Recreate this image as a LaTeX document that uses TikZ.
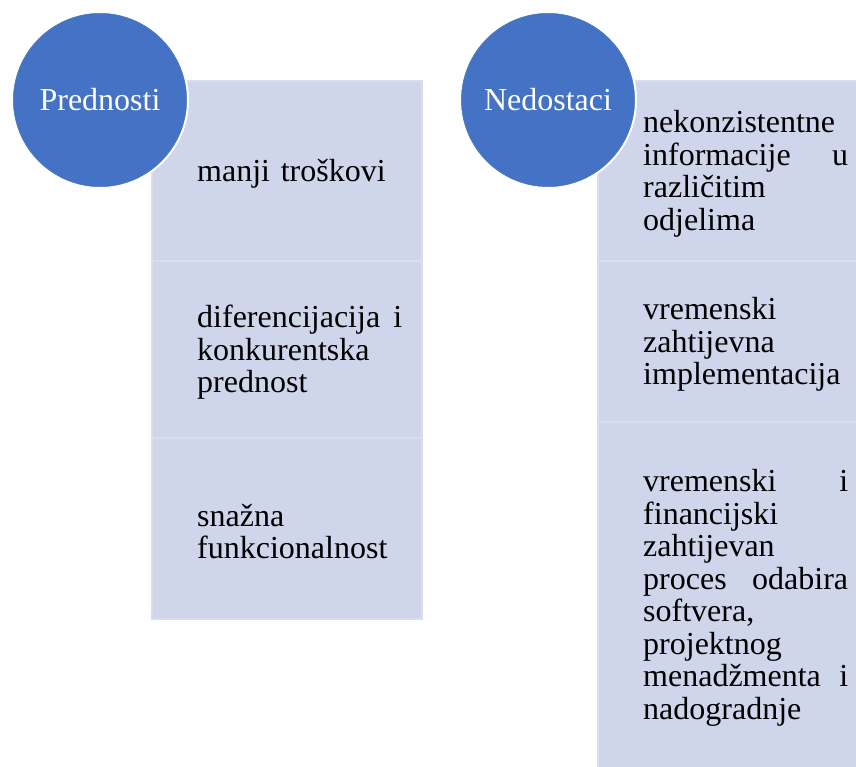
\documentclass[tikz,border=0pt]{standalone}
\usepackage{fontspec}
\setmainfont{Liberation Serif}
\usetikzlibrary{positioning}
\definecolor{plava}{HTML}{4472C4}
\definecolor{svijetla}{HTML}{CFD5EA}
\definecolor{rub}{HTML}{D9DEEF}

\begin{document}
\begin{tikzpicture}[x=1pt, y=-1pt,
  krug/.style={circle, fill=plava, draw=white, line width=2pt, minimum size=176pt, inner sep=0pt, text=white, font=\fontsize{32}{32}\selectfont},
  polje/.style={rectangle, fill=svijetla, draw=rub, line width=1.5pt, minimum width=270pt, inner sep=0pt, outer sep=0pt},
  tekst/.style={text width=205pt, align=left, inner sep=0pt, yshift=-3pt, font=\fontsize{32}{32.5}\selectfont}]
  \useasboundingbox (0,0) rectangle (856,767);
  \node[polje, minimum height=180pt] (p1) at (287,171) {};
  \node[polje, minimum height=177pt, below=0pt of p1] (p2) {};
  \node[polje, minimum height=181pt, below=0pt of p2] (p3) {};
  \node[polje, minimum height=180pt] (n1) at (733,171) {};
  \node[polje, minimum height=161pt, below=0pt of n1] (n2) {};
  \node[polje, minimum height=346pt, below=0pt of n2] (n3) {};
  \node[tekst, right=45pt of p1.west] (p1t) {manji troškovi};
  \node[tekst, right=45pt of p2.west] (p2t) {diferencijacija\hfill i\\konkurentska\\prednost};
  \node[tekst, right=45pt of p3.west] (p3t) {snažna\\funkcionalnost};
  \node[tekst, right=45pt of n1.west] (n1t) {nekonzistentne\\informacije\hfill u\\različitim\\odjelima};
  \node[tekst, right=45pt of n2.west] (n2t) {vremenski\\zahtijevna\\implementacija};
  \node[tekst, right=45pt of n3.west] (n3t) {vremenski\hfill i\\financijski\\zahtijevan\\proces\hfill odabira\\softvera,\\projektnog\\menadžmenta\hfill i\\nadogradnje};
  \node[krug] (pk) at (100,100) {Prednosti};
  \node[krug] (nk) at (548,100) {Nedostaci};
\end{tikzpicture}
\end{document}
